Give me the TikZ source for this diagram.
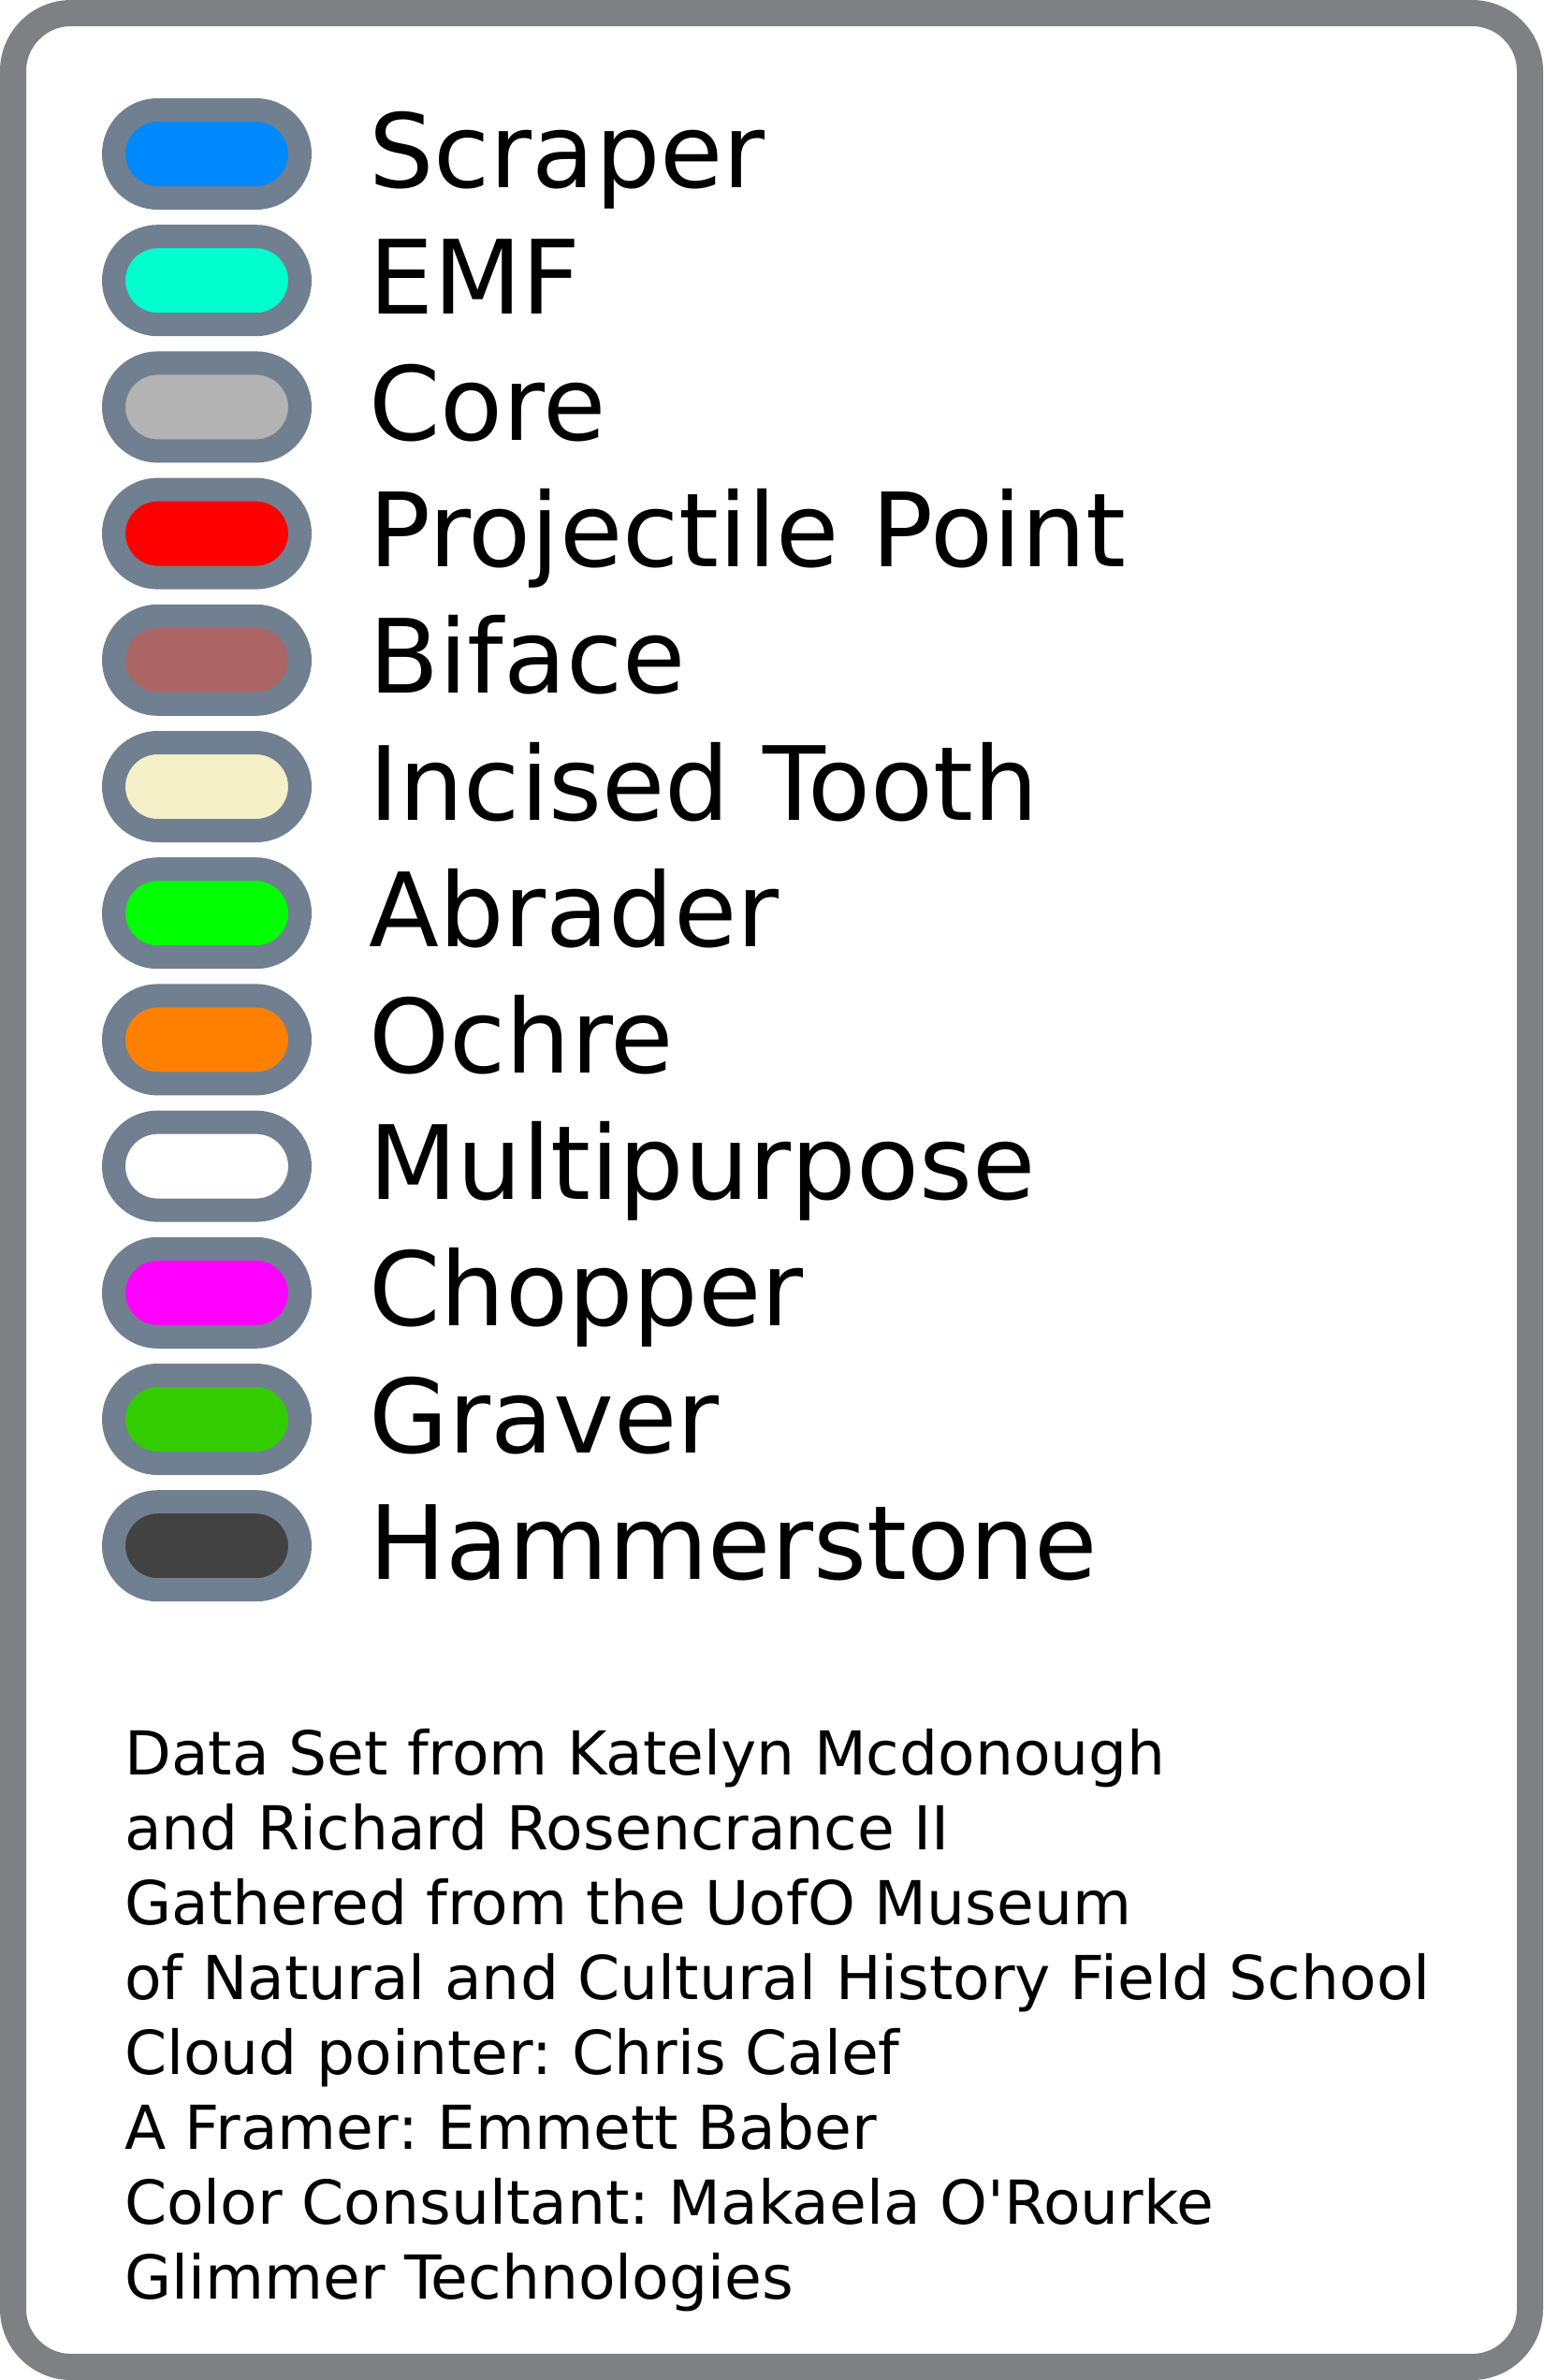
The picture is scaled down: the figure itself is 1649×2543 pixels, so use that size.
\documentclass[tikz,border=0pt]{standalone}
\usepackage{fontspec}
\setmainfont{DejaVu Sans}
\usepackage{tikz}
\frenchspacing

\definecolor{framegray}{RGB}{127,128,131}
\definecolor{ringslate}{RGB}{112,128,144}
\definecolor{scraperc}{RGB}{0,136,255}
\definecolor{emfc}{RGB}{0,255,204}
\definecolor{corec}{RGB}{179,179,179}
\definecolor{pointc}{RGB}{255,0,0}
\definecolor{bifacec}{RGB}{172,101,101}
\definecolor{toothc}{RGB}{245,240,200}
\definecolor{abraderc}{RGB}{0,255,0}
\definecolor{ochrec}{RGB}{255,128,0}
\definecolor{multic}{RGB}{255,255,255}
\definecolor{chopperc}{RGB}{255,0,255}
\definecolor{graverc}{RGB}{51,204,0}
\definecolor{hammerc}{RGB}{66,66,66}

\begin{document}
\begin{tikzpicture}[x=1pt, y=-1pt,
  pill/.style={draw=ringslate, line width=25pt, rectangle, rounded corners=47pt,
    minimum width=199pt, minimum height=94pt, inner sep=0pt},
  lbl/.style={anchor=base west, inner sep=0pt, font=\fontsize{109.5}{130}\selectfont},
  credit/.style={anchor=base west, inner sep=0pt, font=\fontsize{64.7}{80}\selectfont}]
  \useasboundingbox (0,0) rectangle (1649,2543);
  \draw[framegray, line width=28pt, rounded corners=62pt, fill=white] (14,14) rectangle (1635,2529);

  \node[pill, fill=scraperc] (pscraper) at (221,164.5) {};
  \node[lbl] (tscraper) at (394,200) {Scraper};
  \node[pill, fill=emfc] (pemf) at (221,299.7) {};
  \node[lbl] (temf) at (394,335.2) {EMF};
  \node[pill, fill=corec] (pcore) at (221,434.9) {};
  \node[lbl] (tcore) at (394,470.4) {Core};
  \node[pill, fill=pointc] (ppoint) at (221,570.1) {};
  \node[lbl] (tpoint) at (394,605.6) {Projectile Point};
  \node[pill, fill=bifacec] (pbiface) at (221,705.3) {};
  \node[lbl] (tbiface) at (394,740.8) {Biface};
  \node[pill, fill=toothc] (ptooth) at (221,840.5) {};
  \node[lbl] (ttooth) at (394,876) {Incised Tooth};
  \node[pill, fill=abraderc] (pabrader) at (221,975.7) {};
  \node[lbl] (tabrader) at (394,1011.2) {Abrader};
  \node[pill, fill=ochrec] (pochre) at (221,1110.9) {};
  \node[lbl] (tochre) at (394,1146.4) {Ochre};
  \node[pill, fill=multic] (pmulti) at (221,1246.1) {};
  \node[lbl] (tmulti) at (394,1281.6) {Multipurpose};
  \node[pill, fill=chopperc] (pchopper) at (221,1381.3) {};
  \node[lbl] (tchopper) at (394,1416.8) {Chopper};
  \node[pill, fill=graverc] (pgraver) at (221,1516.5) {};
  \node[lbl] (tgraver) at (394,1552) {Graver};
  \node[pill, fill=hammerc] (phammer) at (221,1651.7) {};
  \node[lbl] (thammer) at (394,1687.2) {Hammerstone};

  % credits
  \node[credit] (cred1) at (133,1896) {Data Set from Katelyn Mcdonough};
  \node[credit] (cred2) at (133,1976) {and Richard Rosencrance II};
  \node[credit] (cred3) at (133,2056) {Gathered from the UofO Museum};
  \node[credit] (cred4) at (133,2136) {of Natural and Cultural History Field School};
  \node[credit] (cred5) at (133,2216) {Cloud pointer: Chris Calef};
  \node[credit] (cred6) at (133,2296) {A Framer: Emmett Baber};
  \node[credit] (cred7) at (133,2376) {Color Consultant: Makaela O\textquotesingle Rourke};
  \node[credit] (cred8) at (133,2456) {Glimmer Technologies};
\end{tikzpicture}
\end{document}
